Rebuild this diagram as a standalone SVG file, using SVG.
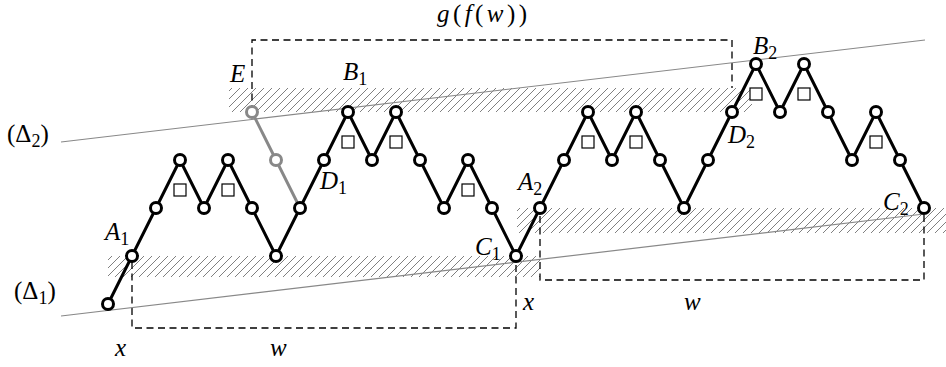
<svg xmlns="http://www.w3.org/2000/svg" width="946" height="367" viewBox="0 0 946 367">
<style>
.dash{fill:none;stroke:#000;stroke-width:1.3;stroke-dasharray:7 4.5}
.delta{fill:none;stroke:#888;stroke-width:1.2}
.edge{fill:none;stroke:#000;stroke-width:3;stroke-linejoin:round}
.gedge{fill:none;stroke:#888;stroke-width:3;stroke-linejoin:round}
.n circle{fill:#fff;stroke:#000;stroke-width:3}
.g circle{fill:#fff;stroke:#888;stroke-width:3}
.sq{fill:#fff;stroke:#000;stroke-width:1.2}
.hatch{fill:url(#h);stroke:none}
</style>
<defs>
<pattern id="h" patternUnits="userSpaceOnUse" width="8" height="8">
<path d="M-1,9 L9,-1 M-1,1 L1,-1 M7,9 L9,7" stroke="#555" stroke-width="0.75" fill="none"/>
</pattern>
</defs>
<rect width="946" height="367" fill="#fff"/>
<g id="bands">
<rect class="hatch" x="108" y="256" width="432" height="21"/>
<rect class="hatch" x="517" y="208" width="429" height="25"/>
<rect class="hatch" x="229" y="88" width="523" height="24"/>
</g>
<g id="boxes">
<path class="dash" d="M132,262 V328 H516 V256"/>
<path class="dash" d="M540,216 V280 H924 V208"/>
<path class="dash" d="M252,112 V40 H732 V88"/>
</g>
<g id="lines">
<line class="delta" x1="61" y1="142" x2="925" y2="40"/>
<line class="delta" x1="61" y1="316" x2="924" y2="214"/>
</g>
<g id="connectors">
<polyline class="edge" points="108,304 132,256 156,208 180,160 204,208 228,160 252,208 276,256 300,208 324,160 348,112 372,160 396,112 420,160 444,208 468,160 492,208 516,256 540,208 564,160 588,112 612,160 636,112 660,160 684,208 708,160 732,112 756,64 780,112 804,64 828,112 852,160 876,112 900,160 924,208"/>
<polyline class="gedge" points="252,112 276,160 300,208"/>
</g>
<g id="squares">
<rect class="sq" x="174" y="184" width="12" height="12"/>
<rect class="sq" x="222" y="184" width="12" height="12"/>
<rect class="sq" x="342" y="136" width="12" height="12"/>
<rect class="sq" x="390" y="136" width="12" height="12"/>
<rect class="sq" x="462" y="184" width="12" height="12"/>
<rect class="sq" x="582" y="136" width="12" height="12"/>
<rect class="sq" x="630" y="136" width="12" height="12"/>
<rect class="sq" x="750" y="88" width="12" height="12"/>
<rect class="sq" x="798" y="88" width="12" height="12"/>
<rect class="sq" x="870" y="136" width="12" height="12"/>
</g>
<g id="E" class="g"><circle cx="252" cy="112" r="5.5"/></g>
<g id="Eb" class="g"><circle cx="276" cy="160" r="5.5"/></g>
<g id="v0" class="n"><circle cx="108" cy="304" r="5.5"/></g>
<g id="A1" class="n"><circle cx="132" cy="256" r="5.5"/></g>
<g id="v2" class="n"><circle cx="156" cy="208" r="5.5"/></g>
<g id="v3" class="n"><circle cx="180" cy="160" r="5.5"/></g>
<g id="v4" class="n"><circle cx="204" cy="208" r="5.5"/></g>
<g id="v5" class="n"><circle cx="228" cy="160" r="5.5"/></g>
<g id="v6" class="n"><circle cx="252" cy="208" r="5.5"/></g>
<g id="v7" class="n"><circle cx="276" cy="256" r="5.5"/></g>
<g id="v8" class="n"><circle cx="300" cy="208" r="5.5"/></g>
<g id="D1" class="n"><circle cx="324" cy="160" r="5.5"/></g>
<g id="B1" class="n"><circle cx="348" cy="112" r="5.5"/></g>
<g id="v11" class="n"><circle cx="372" cy="160" r="5.5"/></g>
<g id="v12" class="n"><circle cx="396" cy="112" r="5.5"/></g>
<g id="v13" class="n"><circle cx="420" cy="160" r="5.5"/></g>
<g id="v14" class="n"><circle cx="444" cy="208" r="5.5"/></g>
<g id="v15" class="n"><circle cx="468" cy="160" r="5.5"/></g>
<g id="v16" class="n"><circle cx="492" cy="208" r="5.5"/></g>
<g id="C1" class="n"><circle cx="516" cy="256" r="5.5"/></g>
<g id="A2" class="n"><circle cx="540" cy="208" r="5.5"/></g>
<g id="v19" class="n"><circle cx="564" cy="160" r="5.5"/></g>
<g id="v20" class="n"><circle cx="588" cy="112" r="5.5"/></g>
<g id="v21" class="n"><circle cx="612" cy="160" r="5.5"/></g>
<g id="v22" class="n"><circle cx="636" cy="112" r="5.5"/></g>
<g id="v23" class="n"><circle cx="660" cy="160" r="5.5"/></g>
<g id="v24" class="n"><circle cx="684" cy="208" r="5.5"/></g>
<g id="v25" class="n"><circle cx="708" cy="160" r="5.5"/></g>
<g id="D2" class="n"><circle cx="732" cy="112" r="5.5"/></g>
<g id="B2" class="n"><circle cx="756" cy="64" r="5.5"/></g>
<g id="v28" class="n"><circle cx="780" cy="112" r="5.5"/></g>
<g id="v29" class="n"><circle cx="804" cy="64" r="5.5"/></g>
<g id="v30" class="n"><circle cx="828" cy="112" r="5.5"/></g>
<g id="v31" class="n"><circle cx="852" cy="160" r="5.5"/></g>
<g id="v32" class="n"><circle cx="876" cy="112" r="5.5"/></g>
<g id="v33" class="n"><circle cx="900" cy="160" r="5.5"/></g>
<g id="C2" class="n"><circle cx="924" cy="208" r="5.5"/></g>
<g id="labels" font-family="'Liberation Serif', 'DejaVu Serif', serif" font-size="25" font-style="italic" fill="#000">
<text x="437" y="22" textLength="90" lengthAdjust="spacing">g<tspan font-style="normal">(</tspan>f<tspan font-style="normal">(</tspan>w<tspan font-style="normal">))</tspan></text>
<text x="230" y="82">E</text>
<text x="343" y="80">B<tspan font-size="18" font-style="normal" dy="5">1</tspan></text>
<text x="105" y="240">A<tspan font-size="18" font-style="normal" dy="5">1</tspan></text>
<text x="320" y="189">D<tspan font-size="18" font-style="normal" dy="5">1</tspan></text>
<text x="518" y="190">A<tspan font-size="18" font-style="normal" dy="5">2</tspan></text>
<text x="475" y="255">C<tspan font-size="18" font-style="normal" dy="5">1</tspan></text>
<text x="753" y="54">B<tspan font-size="18" font-style="normal" dy="5">2</tspan></text>
<text x="728" y="143">D<tspan font-size="18" font-style="normal" dy="5">2</tspan></text>
<text x="883" y="210">C<tspan font-size="18" font-style="normal" dy="5">2</tspan></text>
<text x="7" y="142" font-style="normal">(Δ<tspan font-size="18" dy="5">2</tspan><tspan dy="-5">)</tspan></text>
<text x="14" y="299" font-style="normal">(Δ<tspan font-size="18" dy="5">1</tspan><tspan dy="-5">)</tspan></text>
<text x="115" y="356">x</text>
<text x="270" y="356">w</text>
<text x="523" y="310">x</text>
<text x="684" y="310">w</text>
</g>
</svg>
